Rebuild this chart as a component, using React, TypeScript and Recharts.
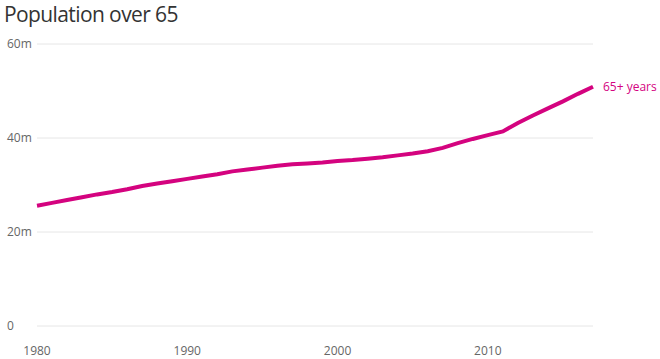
import React from 'react'
import { LineChart, Line, XAxis, YAxis, CartesianGrid } from 'recharts'

const years = [
  1980, 1981, 1982, 1983, 1984, 1985, 1986, 1987, 1988, 1989,
  1990, 1991, 1992, 1993, 1994, 1995, 1996, 1997, 1998, 1999,
  2000, 2001, 2002, 2003, 2004, 2005, 2006, 2007, 2008, 2009,
  2010, 2011, 2012, 2013, 2014, 2015, 2016, 2017,
]

// population aged 65+, millions
const over65 = [
  25.6, 26.2, 26.8, 27.4, 28.0, 28.5, 29.1, 29.8, 30.3, 30.8,
  31.3, 31.8, 32.3, 32.9, 33.3, 33.7, 34.1, 34.4, 34.6, 34.8,
  35.1, 35.3, 35.6, 35.9, 36.3, 36.7, 37.2, 37.9, 38.9, 39.8,
  40.6, 41.4, 43.2, 44.8, 46.3, 47.8, 49.4, 50.9,
]

const xTicks = [1980, 1990, 2000, 2010]
const yTicks = [0, 20, 40, 60]
const seriesName = '65+ years'

const COLOR = '#d4037f'
const FONT = '"Open Sans", "Noto Sans", sans-serif'

const data = years.map((year, i) => ({ year, value: over65[i] }))

const YTick = (props: any) => {
  const { y, payload } = props
  return (
    <text x={7} y={y} dy={4} fontSize={12} fill="#666" fontFamily={FONT} textAnchor="start">
      {payload.value === 0 ? '0' : `${payload.value}m`}
    </text>
  )
}

const EndLabel = (props: any) => {
  const { x, y, index } = props
  if (index !== data.length - 1) return null
  return (
    <text x={x + 10} y={y} dy={4} fontSize={12} fill={COLOR} fontFamily={FONT}>
      {seriesName}
    </text>
  )
}

export default function App() {
  return (
    <div style={{ position: 'absolute', left: 0, top: 0, width: 660, height: 359, background: '#fff', fontFamily: FONT }}>
      <div style={{ position: 'absolute', left: 4, top: 0, fontSize: 21, letterSpacing: -0.6, color: '#333' }}>
        Population over 65
      </div>
      <LineChart
        width={660}
        height={359}
        data={data}
        margin={{ top: 44, right: 67, bottom: 0, left: 0 }}
      >
        <CartesianGrid vertical={false} stroke="#e6e6e6" />
        <XAxis
          dataKey="year"
          type="number"
          domain={[1980, 2017]}
          ticks={xTicks}
          axisLine={false}
          tickLine={false}
          height={33}
          tickMargin={14}
          tick={{ fontSize: 12, fill: '#666', fontFamily: FONT }}
        />
        <YAxis
          domain={[0, 60]}
          ticks={yTicks}
          width={37}
          axisLine={false}
          tickLine={false}
          tick={<YTick />}
        />
        <Line
          dataKey="value"
          stroke={COLOR}
          strokeWidth={4}
          dot={false}
          type="linear"
          isAnimationActive={false}
          label={<EndLabel />}
        />
      </LineChart>
    </div>
  )
}
